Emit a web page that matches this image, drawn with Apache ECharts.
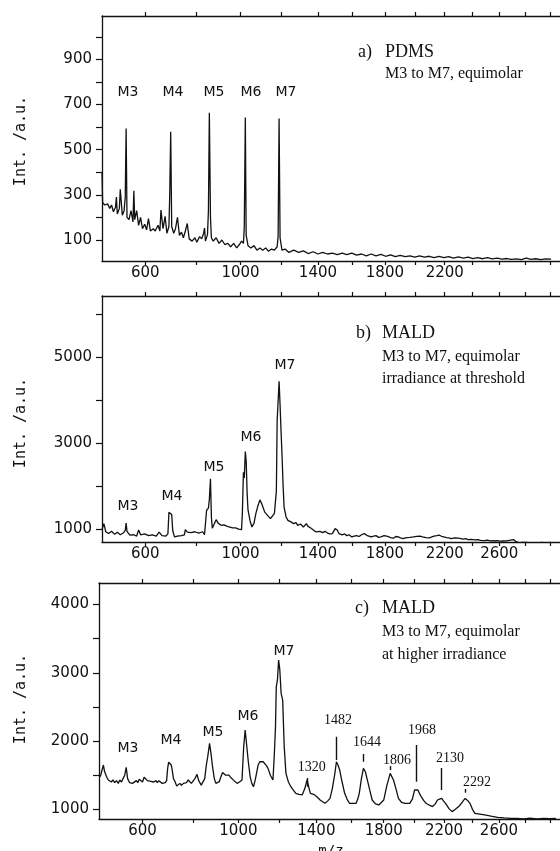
<!DOCTYPE html>
<html><head><meta charset="utf-8">
<script src="https://cdn.jsdelivr.net/npm/echarts@6/dist/echarts.min.js"></script>
<style>html,body{margin:0;padding:0;background:#fff}#c{width:560px;height:851px}</style>
</head><body><div id="c"></div>
<script>
// ---- data: [m/z, intensity] ----
const specA = [[452,400],[454,265],[461,255],[470,260],[477,240],[483,255],[489,225],[496,245],[499,290],[502,215],[509,240],[512,325],[516,320],[519,210],[525,230],[529,290],[532,594],[535,200],[542,190],[549,230],[556,180],[559,318],[562,190],[569,230],[576,165],[583,200],[590,150],[598,170],[605,145],[612,195],[619,140],[630,150],[637,140],[648,165],[655,140],[659,233],[667,150],[675,205],[682,130],[690,160],[693,290],[697,579],[701,160],[709,130],[716,150],[724,200],[732,120],[740,135],[748,110],[756,140],[764,173],[772,105],[784,95],[796,110],[804,90],[816,115],[825,105],[833,130],[837,153],[841,95],[850,125],[854,230],[858,663],[863,200],[867,110],[875,95],[888,110],[901,85],[914,100],[927,80],[941,85],[954,70],[968,85],[982,65],[995,80],[1005,95],[1014,85],[1018,159],[1023,643],[1027,120],[1036,75],[1050,65],[1065,75],[1079,55],[1094,65],[1108,55],[1123,65],[1137,50],[1152,60],[1167,55],[1181,70],[1186,115],[1191,638],[1196,110],[1206,55],[1222,60],[1242,45],[1268,55],[1294,45],[1320,52],[1346,40],[1373,48],[1400,38],[1427,45],[1454,38],[1482,42],[1510,35],[1539,42],[1567,35],[1596,42],[1625,33],[1655,38],[1684,30],[1714,38],[1744,30],[1775,36],[1805,28],[1836,34],[1867,26],[1899,32],[1931,26],[1963,30],[1995,24],[2027,30],[2060,24],[2093,28],[2126,22],[2160,27],[2194,22],[2228,26],[2262,20],[2297,25],[2332,20],[2367,24],[2402,18],[2438,22],[2474,17],[2510,22],[2546,16],[2583,20],[2620,15],[2657,18],[2694,14],[2732,16],[2770,13],[2809,20],[2847,14],[2886,17],[2925,13],[2965,16],[3010,15]];

const specB = [[452,1000],[458,1140],[464,950],[473,910],[483,960],[493,890],[502,940],[512,880],[522,920],[529,980],[532,1150],[535,960],[545,870],[559,880],[569,850],[576,990],[583,880],[598,900],[612,860],[626,880],[641,850],[652,940],[663,860],[678,850],[686,900],[690,1400],[693,1380],[697,1446],[701,1350],[705,980],[712,830],[724,850],[740,860],[752,880],[756,1000],[764,940],[780,930],[796,950],[812,920],[829,950],[837,880],[841,900],[846,1450],[850,1485],[854,1500],[858,1700],[863,2178],[867,1300],[871,1030],[879,1040],[888,1230],[897,1150],[910,1100],[923,1110],[936,1080],[950,1060],[963,1040],[977,1040],[991,1010],[1005,1000],[1009,1400],[1014,2330],[1018,2200],[1023,2815],[1027,2600],[1032,1800],[1036,1450],[1046,1200],[1055,1060],[1065,1150],[1074,1370],[1084,1550],[1094,1690],[1103,1600],[1118,1406],[1132,1330],[1147,1254],[1157,1300],[1167,1376],[1177,1900],[1181,3524],[1186,3500],[1191,4448],[1196,3900],[1201,3300],[1206,2755],[1212,2000],[1217,1522],[1227,1300],[1237,1215],[1252,1180],[1268,1139],[1280,1160],[1289,1100],[1304,1130],[1312,1090],[1320,1060],[1336,1139],[1344,1080],[1352,1050],[1362,1030],[1373,1000],[1389,945],[1400,985],[1411,960],[1427,930],[1440,960],[1454,920],[1468,900],[1482,908],[1498,1023],[1510,990],[1520,908],[1530,930],[1539,880],[1553,900],[1567,860],[1580,880],[1596,829],[1610,850],[1625,860],[1640,840],[1655,880],[1672,908],[1690,860],[1700,880],[1714,829],[1730,850],[1744,860],[1760,820],[1775,830],[1795,860],[1818,845],[1835,815],[1855,800],[1870,840],[1886,830],[1900,810],[1918,792],[1940,815],[1962,820],[1985,830],[2008,845],[2030,850],[2047,830],[2070,815],[2093,810],[2110,830],[2126,850],[2145,860],[2160,870],[2178,845],[2194,830],[2212,815],[2228,810],[2248,792],[2270,810],[2297,800],[2315,790],[2332,780],[2350,790],[2367,769],[2390,775],[2416,760],[2440,765],[2459,750],[2488,746],[2510,755],[2531,740],[2550,745],[2568,735],[2585,742],[2605,730],[2630,735],[2657,740],[2685,755],[2709,769],[2730,720],[2754,691],[2780,705],[2809,700],[2835,690],[2862,676],[2885,695],[2908,690],[2935,700],[2965,691],[3010,700]];

const specC = [[456,1477],[466,1649],[470,1550],[477,1470],[482,1430],[487,1440],[492,1400],[497,1430],[503,1390],[509,1420],[515,1380],[520,1430],[526,1400],[531,1450],[537,1500],[542,1615],[547,1450],[554,1390],[559,1410],[564,1380],[571,1400],[578,1420],[583,1390],[588,1440],[594,1420],[600,1400],[606,1470],[612,1480],[618,1420],[624,1440],[630,1410],[636,1430],[642,1400],[650,1420],[655,1390],[661,1420],[668,1400],[674,1380],[680,1400],[686,1390],[691,1420],[695,1600],[699,1690],[705,1697],[709,1650],[712,1600],[718,1450],[725,1400],[731,1340],[738,1331],[744,1380],[750,1350],[758,1380],[765,1400],[771,1390],[778,1430],[785,1410],[791,1380],[798,1400],[806,1450],[815,1512],[822,1420],[833,1355],[841,1380],[848,1450],[855,1650],[861,1770],[869,1966],[876,1800],[882,1624],[890,1450],[897,1380],[905,1400],[912,1405],[920,1480],[927,1540],[934,1551],[941,1500],[948,1520],[956,1500],[963,1470],[971,1480],[980,1420],[994,1380],[1005,1400],[1017,1430],[1025,1917],[1032,2161],[1040,1917],[1047,1700],[1056,1480],[1064,1380],[1072,1331],[1080,1420],[1087,1527],[1095,1650],[1104,1700],[1112,1722],[1120,1697],[1127,1697],[1136,1640],[1144,1600],[1156,1500],[1169,1430],[1176,1800],[1182,2209],[1186,2795],[1192,2900],[1198,3186],[1204,3050],[1211,2700],[1219,2600],[1227,1917],[1236,1527],[1249,1400],[1262,1331],[1275,1280],[1288,1234],[1305,1220],[1323,1212],[1336,1300],[1349,1429],[1358,1330],[1367,1234],[1385,1220],[1403,1185],[1412,1200],[1421,1136],[1435,1110],[1449,1088],[1463,1120],[1477,1160],[1490,1300],[1505,1527],[1514,1697],[1523,1650],[1533,1575],[1547,1400],[1562,1234],[1576,1150],[1590,1088],[1610,1088],[1630,1088],[1640,1150],[1649,1234],[1662,1450],[1674,1600],[1686,1550],[1698,1430],[1713,1280],[1728,1136],[1748,1080],[1769,1064],[1785,1100],[1800,1136],[1820,1350],[1841,1527],[1862,1430],[1878,1300],[1894,1160],[1915,1100],[1936,1088],[1968,1088],[1985,1150],[2000,1283],[2012,1290],[2022,1283],[2033,1230],[2044,1185],[2060,1130],[2077,1088],[2100,1060],[2121,1040],[2140,1080],[2155,1136],[2170,1150],[2184,1160],[2198,1120],[2211,1088],[2235,1010],[2257,966],[2280,1000],[2304,1040],[2328,1100],[2350,1160],[2368,1130],[2385,1088],[2403,1000],[2421,941],[2457,930],[2493,917],[2540,900],[2591,883],[2640,875],[2691,868],[2740,865],[2792,858],[2840,870],[2896,860],[2950,868],[3000,862],[3050,866]];

// ---- ticks / labels ----
const xTickMz = [600,800,1000,1200,1400,1600,1800,2000,2200,2400,2600,2800,3000];
const xLabelsA = [600,1000,1400,1800,2200];
const xLabelsBC = [600,1000,1400,1800,2200,2600];
const yTicksA = [100,200,300,400,500,600,700,800,900,1000];
const yLabelsA = [100,300,500,700,900];
const yTicksB = [1000,2000,3000,4000,5000,6000];
const yLabelsB = [1000,3000,5000];
const yTicksC = [1000,1500,2000,2500,3000,3500,4000];
const yLabelsC = [1000,2000,3000,4000];
const peakNames = ['M3','M4','M5','M6','M7'];
// panel c fragment peaks: position (m/z on axis), label text, marker range (intensity)
const cFragMz = [1349,1514,1674,1841,2011,2184,2350];
const cFragText = ['1320','1482','1644','1806','1968','2130','2292'];
const cFragLow = [1331,1722,1697,1575,1404,1283,1243];
const cFragHigh = [1458,2063,1810,1634,1942,1605,1297];

// ---- layout ----
const INK = '#111';
const SANS = 'DejaVu Sans';
const SERIF = 'Liberation Serif';
const XMIN = 21.26, XMAX = 55.53; // axis is linear in sqrt(m/z) (flight time)

function xAx(gi, labels, top) {
  return {
    type: 'value', gridIndex: gi, position: top ? 'top' : 'bottom', min: XMIN, max: XMAX,
    axisLine: {show: true, onZero: false, lineStyle: {color: INK, width: 1.3}},
    axisTick: {show: true, inside: false, length: 4, customValues: xTickMz.map(Math.sqrt), lineStyle: {color: INK, width: 1.2}},
    axisLabel: {show: !top, customValues: labels.map(Math.sqrt), formatter: v => String(Math.round(v * v)),
      margin: 5, fontFamily: SANS, fontSize: 15, color: INK},
    splitLine: {show: false}
  };
}
function yAx(gi, min, max, ticks, labels) {
  return {
    type: 'value', gridIndex: gi, min: min, max: max,
    axisLine: {show: true, onZero: false, lineStyle: {color: INK, width: 1.3}},
    axisTick: {show: true, inside: false, length: 6, customValues: ticks, lineStyle: {color: INK, width: 1.2}},
    axisLabel: {customValues: labels, formatter: v => String(Math.round(v)), margin: 10, fontFamily: SANS, fontSize: 15, color: INK},
    splitLine: {show: false}
  };
}
function lineSeries(ai, spec, extra) {
  return Object.assign({
    type: 'line', xAxisIndex: ai * 2, yAxisIndex: ai,
    data: spec.map(p => [Math.sqrt(p[0]), p[1]]),
    showSymbol: false, symbol: 'none', animation: false, clip: true,
    lineStyle: {color: INK, width: 1.3}
  }, extra || {});
}
function txt(t, x, y, size, family, align, extra) {
  return Object.assign({type: 'text', x: x, y: y, silent: true,
    style: {text: t, font: size + 'px "' + family + '"', fill: INK,
      align: align || 'center', verticalAlign: 'middle', textAlign: align || 'center', textVerticalAlign: 'middle'}}, extra || {});
}

const mLabelPos = [
  [[128,92],[173,92],[214,92],[251,92],[286,92]],
  [[128,506],[172,496],[214,467],[251,437],[285,365]],
  [[128,748],[171,740],[213,732],[248,716],[284,651]]
];
const fragLabelPos = [[311.7,767],[338,720],[367,742],[397,760],[422,730],[450,758],[477,782]];

const graphics = [];
[141, 423, 699].forEach(y => graphics.push(txt('Int. /a.u.', 21, y, 15, 'DejaVu Sans Mono', 'center', {rotation: Math.PI / 2})));
mLabelPos.forEach(arr => arr.forEach((p, i) => graphics.push(txt(peakNames[i], p[0], p[1], 14, SANS))));
fragLabelPos.forEach((p, i) => graphics.push(txt(cFragText[i], p[0], p[1], 14, SERIF)));
graphics.push(txt('a)', 358, 52, 18, SERIF, 'left'), txt('PDMS', 385, 52, 18, SERIF, 'left'),
  txt('M3 to M7, equimolar', 385, 74, 16, SERIF, 'left'));
graphics.push(txt('b)', 356, 333, 18, SERIF, 'left'), txt('MALD', 382, 333, 18, SERIF, 'left'),
  txt('M3 to M7, equimolar', 382, 357, 16, SERIF, 'left'), txt('irradiance at threshold', 382, 379, 16, SERIF, 'left'));
graphics.push(txt('c)', 355, 608, 18, SERIF, 'left'), txt('MALD', 382, 608, 18, SERIF, 'left'),
  txt('M3 to M7, equimolar', 382, 632, 16, SERIF, 'left'), txt('at higher irradiance', 382, 655, 16, SERIF, 'left'));
graphics.push(txt('m/z', 331, 851, 14, 'DejaVu Sans Mono'));

const chart = echarts.init(document.getElementById('c'), null, {renderer: 'canvas'});
chart.setOption({
  backgroundColor: '#fff',
  animation: false,
  grid: [
    {left: 102, top: 16, width: 473, height: 245},
    {left: 102, top: 296, width: 473, height: 246},
    {left: 99, top: 583, width: 473, height: 236}
  ],
  xAxis: [xAx(0, xLabelsA, false), xAx(0, [], true), xAx(1, xLabelsBC, false), xAx(1, [], true), xAx(2, xLabelsBC, false), xAx(2, [], true)],
  yAxis: [yAx(0, 7, 1092, yTicksA, yLabelsA), yAx(1, 712, 6426, yTicksB, yLabelsB), yAx(2, 858, 4316, yTicksC, yLabelsC)],
  series: [
    lineSeries(0, specA),
    lineSeries(1, specB),
    lineSeries(2, specC, {
      markLine: {silent: true, symbol: 'none', animation: false, label: {show: false},
        lineStyle: {color: INK, width: 1.4, type: 'solid'},
        data: cFragMz.map((m, i) => [{coord: [Math.sqrt(m), cFragLow[i]]}, {coord: [Math.sqrt(m), cFragHigh[i]]}])}
    })
  ],
  graphic: graphics
});
</script>
</body></html>
